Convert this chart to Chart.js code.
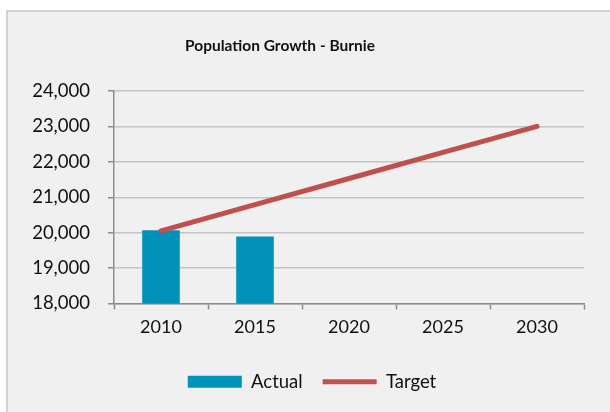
<!DOCTYPE html>
<html>
<head>
<meta charset="utf-8">
<script src="https://cdn.jsdelivr.net/npm/chart.js@4.4.1/dist/chart.umd.min.js"></script>
<style>
  html, body { margin: 0; padding: 0; background: #fff; }
  #wrap { width: 610px; height: 412px; }
</style>
</head>
<body>
<div id="wrap"><canvas id="canvas" width="610" height="412"></canvas></div>
<script>
// population figures for Burnie
var years = ['2010', '2015', '2020', '2025', '2030'];
var actual = [20065, 19890, null, null, null];
var target = [20050, 20790, 21530, 22265, 23000];
var yTicks = [18000, 19000, 20000, 21000, 22000, 23000, 24000];

var FONT = 'Lato, "Open Sans", sans-serif';
var axisGray = '#8c8c8c';

// grey panel behind the chart and the heading
var panel = {
  id: 'panel',
  afterLayout: function(chart) {
    // nudge the legend row a bit right of the canvas centre
    chart.legend.left += 20;
    chart.legend.right += 20;
  },
  beforeDraw: function(chart) {
    var ctx = chart.ctx;
    ctx.save();
    ctx.fillStyle = '#ffffff';
    ctx.fillRect(0, 0, chart.width, chart.height);
    ctx.fillStyle = '#f0f0f0';
    ctx.fillRect(7, 11, chart.width, chart.height);
    ctx.strokeStyle = '#c6c6c6';
    ctx.lineWidth = 1.5;
    ctx.strokeRect(7, 11, chart.width + 10, chart.height + 10);
    ctx.restore();
  },
  afterDraw: function(chart) {
    var ctx = chart.ctx;
    ctx.save();
    ctx.font = 'bold 15.5px ' + FONT;
    ctx.fillStyle = '#111';
    ctx.textAlign = 'center';
    ctx.textBaseline = 'middle';
    ctx.fillText('Population Growth - Burnie', 280, 46);
    ctx.restore();
  }
};

var ctx = document.getElementById('canvas').getContext('2d');
var chart = new Chart(ctx, {
  data: {
    labels: years,
    datasets: [{
      type: 'bar',
      label: 'Actual',
      data: actual,
      backgroundColor: '#0092b9',
      borderWidth: 0,
      barPercentage: 0.4,
      categoryPercentage: 1,
      pointStyle: 'rect',
      order: 2
    }, {
      type: 'line',
      label: 'Target',
      data: target,
      borderColor: '#c0504d',
      backgroundColor: '#c0504d',
      borderWidth: 5,
      borderCapStyle: 'round',
      pointRadius: 0,
      pointStyle: 'line',
      tension: 0,
      order: 1
    }]
  },
  options: {
    responsive: false,
    animation: false,
    events: [],
    layout: { padding: { left: 0, right: 26, top: 91, bottom: 11 } },
    plugins: {
      title: { display: false },
      tooltip: { enabled: false },
      legend: {
        position: 'bottom',
        labels: {
          usePointStyle: true,
          pointStyleWidth: 54,
          boxHeight: 12,
          padding: 20,
          color: '#111',
          font: { family: FONT, size: 18.5 },
          sort: function(a, b) { return a.datasetIndex - b.datasetIndex; }
        }
      }
    },
    scales: {
      x: {
        offset: true,
        grid: {
          offset: true,
          drawOnChartArea: false,
          tickLength: 6,
          tickColor: axisGray,
          tickWidth: 1.5
        },
        border: { color: axisGray, width: 1.5 },
        ticks: { color: '#111', padding: 7, font: { family: FONT, size: 18 } },
        afterFit: function(s) { s.height = 49; }
      },
      y: {
        min: 18000,
        max: 24000,
        afterBuildTicks: function(s) {
          s.ticks = yTicks.map(function(v) { return { value: v }; });
        },
        grid: {
          color: '#c4c4c4',
          lineWidth: 1.5,
          tickLength: 6,
          tickColor: axisGray
        },
        border: { color: axisGray, width: 1.5 },
        ticks: {
          color: '#111',
          padding: 18,
          font: { family: FONT, size: 18.5 },
          callback: function(v) { return v.toLocaleString('en-US'); }
        },
        afterFit: function(s) { s.width = 114; }
      }
    }
  },
  plugins: [panel]
});
</script>
</body>
</html>
